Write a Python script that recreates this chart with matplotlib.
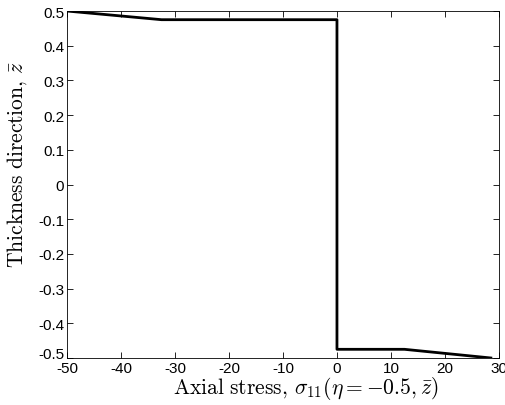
import matplotlib
matplotlib.use("Agg")
import matplotlib.pyplot as plt
import matplotlib.transforms as mtransforms
import numpy as np

# stress through the thickness at eta = -0.5
stress = [-50, -32.5, 0, 0, 12.5, 28.5]
zbar = [0.5, 0.475, 0.475, -0.475, -0.475, -0.5]

xticks = [-50, -40, -30, -20, -10, 0, 10, 20, 30]
yticks = [-0.5, -0.4, -0.3, -0.2, -0.1, 0, 0.1, 0.2, 0.3, 0.4, 0.5]

plt.rcParams['mathtext.fontset'] = 'cm'
plt.rcParams['font.family'] = ['Liberation Sans', 'DejaVu Sans']

fig = plt.figure(figsize=(5.05, 4.06), dpi=100)
ax = fig.add_axes([0.1327, 0.1158, 0.8553, 0.8546])

ax.plot(stress, zbar, color='k', lw=2)

ax.set_xlim(-50, 30)
ax.set_ylim(-0.5, 0.5)
ax.set_xticks(xticks)
ax.set_xticklabels([f'{t:g}' for t in xticks])
ax.set_yticks(yticks)
ax.set_yticklabels([f'{t:g}' for t in yticks])
ax.tick_params(direction='in', top=True, right=True, labelsize=11, length=4,
               width=0.6, pad=2)
for s in ax.spines.values():
    s.set_linewidth(0.6)

# lift the bottom y tick label a little, like the original
lab = ax.get_yticklabels()[0]
lab.set_transform(lab.get_transform() +
                  mtransforms.ScaledTranslation(0, 5 / 100, fig.dpi_scale_trans))

ax.set_xlabel(r'$\mathrm{Axial\ stress,}\,\sigma_{11}(\eta=-0.5,\bar{z})$',
              fontsize=15.5)
ax.xaxis.set_label_coords(0.553, -0.045)
ax.set_ylabel(r'$\mathrm{Thickness\ direction,}\,\bar{z}$', fontsize=15.5)
ax.yaxis.set_label_coords(-0.088, 0.56)

fig.savefig('out.png', dpi=100)
